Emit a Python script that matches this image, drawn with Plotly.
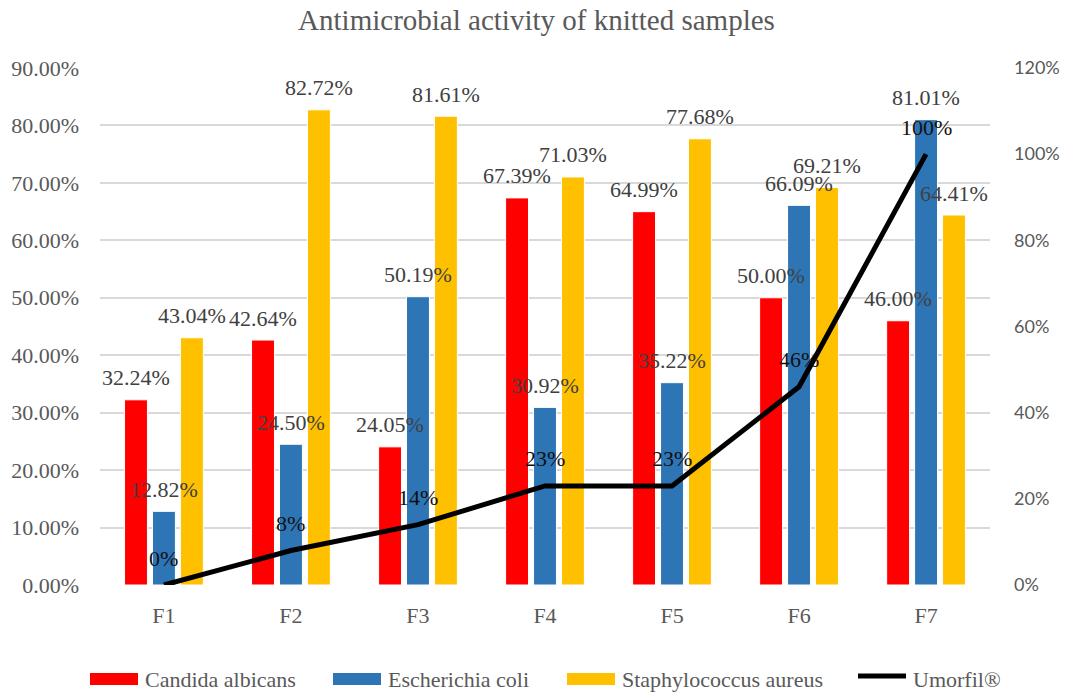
import plotly.graph_objects as go

# Samples and measured activity (fractions)
samples = ["F1", "F2", "F3", "F4", "F5", "F6", "F7"]
candida = [0.3224, 0.4264, 0.2405, 0.6739, 0.6499, 0.5000, 0.4600]
ecoli = [0.1282, 0.2450, 0.5019, 0.3092, 0.3522, 0.6609, 0.8101]
staph = [0.4304, 0.8272, 0.8161, 0.7103, 0.7768, 0.6921, 0.6441]
umorfil = [0.00, 0.08, 0.14, 0.23, 0.23, 0.46, 1.00]

series = [
    ("Candida albicans", candida, "#FF0000"),
    ("Escherichia coli", ecoli, "#2E75B6"),
    ("Staphylococcus aureus", staph, "#FFC000"),
]
line_name = "Umorfil®"

serif = "Liberation Serif, Times New Roman, serif"
sans = "Lato, Calibri, sans-serif"
grey = "#595959"

W, H = 1073, 693
M = dict(l=100, r=83, t=68, b=108)
plot_w = W - M["l"] - M["r"]
plot_h = H - M["t"] - M["b"]


def px_x(px):
    return (px - M["l"]) / plot_w


def px_y(py):
    return (H - M["b"] - py) / plot_h


bargap = 0.34
slot = (1 - bargap) / len(series)

fig = go.Figure()
annotations = []
shapes = []
for j, (name, vals, color) in enumerate(series):
    fig.add_trace(go.Bar(
        name=name, x=samples, y=vals, showlegend=False,
        marker=dict(color=color, line=dict(color="white", width=1)),
        yaxis="y",
    ))
    for i, v in enumerate(vals):
        annotations.append(dict(
            x=i + (j - 1) * slot, y=v, xref="x", yref="y",
            text=f"{v * 100:.2f}%", showarrow=False, yshift=22,
            font=dict(family=serif, size=22, color="#404040"),
        ))

fig.add_trace(go.Scatter(
    name=line_name, x=samples, y=umorfil, yaxis="y2", showlegend=False,
    mode="lines", line=dict(color="black", width=5),
))
for i, v in enumerate(umorfil):
    annotations.append(dict(
        x=i, y=v, xref="x", yref="y2",
        text=f"{v * 100:.0f}%", showarrow=False, yshift=27,
        font=dict(family=serif, size=22, color="#111111"),
    ))

# Legend along the bottom: wide swatches followed by the series names
legend_y = 679
legend_items = [
    (series[0][0], series[0][2], "box", 90),
    (series[1][0], series[1][2], "box", 333),
    (series[2][0], series[2][2], "box", 567),
    (line_name, "black", "line", 858),
]
for name, color, kind, x0 in legend_items:
    x1 = x0 + 48
    if kind == "box":
        shapes.append(dict(
            type="rect", xref="paper", yref="paper",
            x0=px_x(x0), x1=px_x(x1),
            y0=px_y(legend_y + 6), y1=px_y(legend_y - 6),
            fillcolor=color, line=dict(width=0),
        ))
    else:
        shapes.append(dict(
            type="line", xref="paper", yref="paper",
            x0=px_x(x0), x1=px_x(x1),
            y0=px_y(legend_y - 3), y1=px_y(legend_y - 3),
            line=dict(color=color, width=5),
        ))
    annotations.append(dict(
        x=px_x(x1 + 5), y=px_y(legend_y), xref="paper", yref="paper",
        xanchor="left", yanchor="middle", showarrow=False, text=name,
        font=dict(family=serif, size=22, color=grey),
    ))

fig.update_layout(
    width=W, height=H,
    margin=M,
    paper_bgcolor="white", plot_bgcolor="white",
    barmode="group", bargap=bargap, bargroupgap=0.18,
    showlegend=False,
    title=dict(text="Antimicrobial activity of knitted samples",
               x=0.5, xref="container", y=1 - 20 / H, yanchor="middle",
               font=dict(family=serif, size=29, color=grey)),
    xaxis=dict(tickfont=dict(family=serif, size=22, color=grey),
               showline=False, ticks="", ticklabelstandoff=15),
    yaxis=dict(range=[0, 0.9], dtick=0.1, tickformat=".2%",
               gridcolor="#D9D9D9", gridwidth=1.5, zeroline=False,
               tickfont=dict(family=serif, size=22, color=grey),
               ticklabelstandoff=20),
    yaxis2=dict(range=[0, 1.2], dtick=0.2, tickformat=".0%",
                overlaying="y", side="right", showgrid=False,
                zeroline=False,
                tickfont=dict(family=sans, size=18, color=grey),
                ticklabelstandoff=23),
    annotations=annotations,
    shapes=shapes,
)

fig.write_html("out.html")
